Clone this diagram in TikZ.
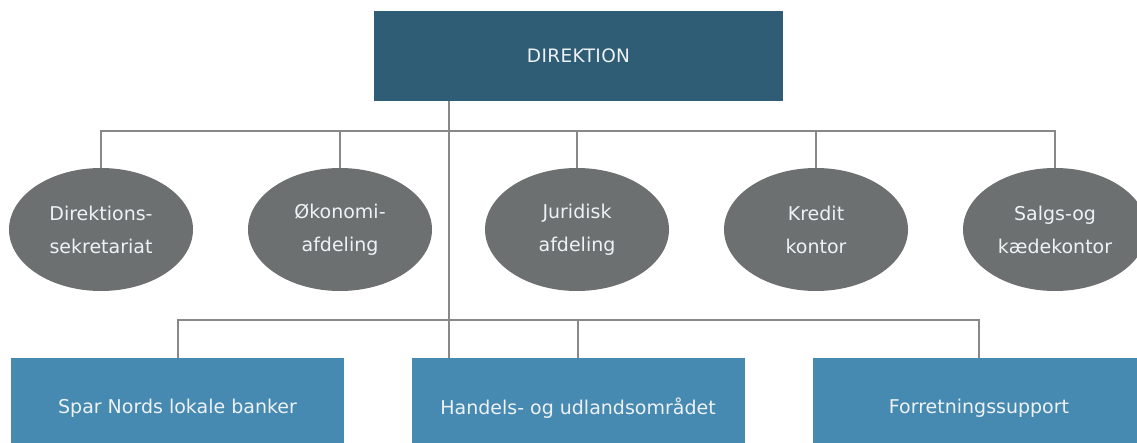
\documentclass[tikz,border=0pt]{standalone}
\usepackage{fontspec}
\setmainfont{DejaVu Sans}
\newfontfamily\spacedfont[LetterSpace=2]{DejaVu Sans}
\usetikzlibrary{shapes.geometric}
\definecolor{dirblue}{HTML}{2F5D75}
\definecolor{ellgray}{HTML}{6D7070}
\definecolor{boxblue}{HTML}{4689B1}
\definecolor{linegray}{HTML}{888888}
\definecolor{txt}{HTML}{EEF2F5}
\tikzset{
  topbox/.style={rectangle, fill=dirblue, draw=none, minimum width=409pt, minimum height=90pt, inner sep=0pt, text=txt, font=\fontsize{18.5}{22}\selectfont\spacedfont},
  unit/.style={ellipse, fill=ellgray, draw=none, minimum width=184pt, minimum height=123pt, inner sep=0pt, text=txt, align=center, font=\fontsize{19}{33}\selectfont},
  area/.style={rectangle, fill=boxblue, draw=none, minimum width=333pt, minimum height=100pt, inner sep=0pt, text=txt, font=\fontsize{19}{22}\selectfont},
  conn/.style={draw=linegray, line width=2pt}
}
\begin{document}
\begin{tikzpicture}[x=1pt,y=-1pt]
\useasboundingbox (0,0) rectangle (1137,443);
\node[topbox] (dir) at (578.5,56) {DIREKTION};
\node[unit] (e1) at (101,229.5) {Direktions-\\sekretariat};
\node[unit] (e2) at (340,229.5) {Økonomi-\\afdeling};
\node[unit] (e3) at (577,229.5) {Juridisk\\afdeling};
\node[unit] (e4) at (816,229.5) {Kredit\\kontor};
\node[unit] (e5) at (1055,229.5) {Salgs-og\\kædekontor};
\node[area] (b1) at (177.5,408) {Spar Nords lokale banker};
\node[area] (b2) at (578,408) {Handels- og udlandsområdet};
\node[area] (b3) at (979,408) {Forretningssupport};
\coordinate (trunk) at (449,101);
\coordinate (busA) at (449,131);
\coordinate (busB) at (449,320);
\draw[conn] (trunk) -- (trunk |- b2.north);
\draw[conn] (e1.north) -- (e1.north |- busA) -- (e5.north |- busA) -- (e5.north);
\foreach \e in {e2,e3,e4} \draw[conn] (\e.north) -- (\e.north |- busA);
\draw[conn] (b1.north) -- (b1.north |- busB) -- (b3.north |- busB) -- (b3.north);
\draw[conn] (b2.north) -- (b2.north |- busB);
\end{tikzpicture}
\end{document}
